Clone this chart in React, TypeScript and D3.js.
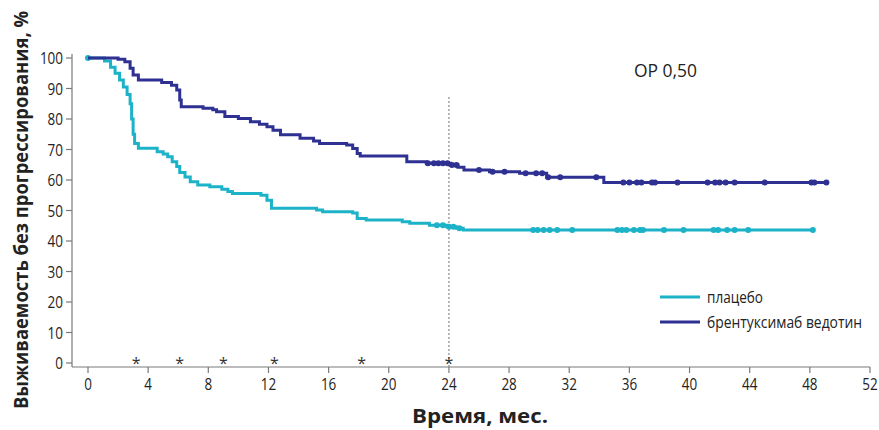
import * as d3 from "d3";

// Kaplan–Meier steps (month, % without progression)
const placeboT = [0, 1.1, 1.5, 1.8, 2.1, 2.35, 2.6, 2.8, 2.9, 3.0, 3.1, 3.35, 4.6, 5.0, 5.3, 5.6, 5.9, 6.1, 6.45, 6.8, 7.3, 8.1, 8.9, 9.3, 9.6, 11.5, 11.9, 12.2, 15.2, 15.6, 17.6, 17.9, 18.5, 20.9, 21.4, 22.7, 23.85, 24.5, 24.95, 48.3];
const placeboV = [100, 99, 97, 95, 92.8, 90.5, 88, 85, 80, 75, 72, 70.4, 69.3, 68.5, 67.6, 66, 64.4, 62.5, 61, 59.4, 58.4, 57.8, 57, 56.2, 55.6, 55, 53.4, 50.7, 50.2, 49.6, 49.2, 47.4, 46.9, 46.3, 45.8, 45.2, 44.7, 44.2, 43.6, 43.6];
const placeboCensor = [0, 23.2, 23.6, 24.0, 24.3, 24.7, 29.6, 29.9, 30.3, 30.7, 31.2, 32.2, 35.2, 35.5, 35.8, 36.3, 36.7, 36.9, 38.3, 39.6, 41.6, 41.9, 42.5, 43.0, 43.9, 48.2];

const bvT = [0, 2.0, 2.45, 2.8, 3.0, 3.35, 4.9, 5.55, 5.9, 6.1, 6.2, 7.65, 8.3, 8.55, 9.1, 10.0, 10.8, 11.4, 11.9, 12.3, 12.8, 14.1, 15.0, 15.4, 17.2, 17.6, 17.9, 18.1, 21.2, 22.5, 24.1, 24.6, 25.0, 26.7, 28.7, 30.5, 34.3, 49.1];
const bvV = [100, 99.6, 98.8, 96.6, 94.4, 92.8, 92, 91.1, 89.5, 86.2, 84, 83.5, 83, 82.4, 80.8, 80.2, 79.1, 78.3, 77.5, 76.3, 74.8, 73.7, 72.8, 72, 71.5, 70.3, 68.7, 67.9, 66, 65.5, 64.9, 64.2, 63.3, 62.7, 62.2, 60.9, 59.2, 59.2];
const bvCensor = [22.6, 23.0, 23.3, 23.6, 23.9, 24.2, 24.5, 26.0, 26.9, 27.7, 29.1, 29.8, 30.2, 30.6, 31.4, 33.8, 35.6, 36.0, 36.5, 36.8, 37.5, 37.7, 39.2, 41.2, 41.7, 42.0, 42.4, 43.0, 45.0, 48.1, 48.3, 49.1];

const xTicks = [0, 4, 8, 12, 16, 20, 24, 28, 32, 36, 40, 44, 48, 52];
const yTicks = [0, 10, 20, 30, 40, 50, 60, 70, 80, 90, 100];
const starMonths = [3.2, 6.1, 9.0, 12.4, 18.2, 24];
const landmark = 24;

const seriesNames = ["плацебо", "брентуксимаб ведотин"];
const seriesColors = ["#1cb2c8", "#2e3192"];

const W = 879;
const H = 430;
const FONT = "'Open Sans', 'Noto Sans', sans-serif";
const DIGIT_W = 7.7; // condensed digit width

const x = d3.scaleLinear().domain([0, 52]).range([88, 870]);
const y = d3.scaleLinear().domain([0, 100]).range([363, 58]);

const stepLine = d3
  .line<[number, number]>()
  .x((d) => x(d[0]))
  .y((d) => y(d[1]))
  .curve(d3.curveStepAfter);

const valueAt = (ts: number[], vs: number[], t: number) => {
  const i = d3.bisectRight(ts, t) - 1;
  return vs[Math.max(0, i)];
};

function Curve({ ts, vs, censor, color }: { ts: number[]; vs: number[]; censor: number[]; color: string }) {
  const pts = ts.map((t, i) => [t, vs[i]] as [number, number]);
  return (
    <g>
      <path d={stepLine(pts) || ""} fill="none" stroke={color} strokeWidth={3} />
      {censor.map((t, i) => (
        <circle key={i} cx={x(t)} cy={y(valueAt(ts, vs, t))} r={3} fill={color} />
      ))}
    </g>
  );
}

export default function App() {
  const axisY = 367;
  return (
    <svg
      width={W}
      height={H}
      style={{ position: "absolute", left: 0, top: 0, background: "#fff" }}
      fontFamily={FONT}
    >
      {/* y axis */}
      <line x1={72} x2={72} y1={y(100) - 4} y2={axisY} stroke="#7a7a7a" strokeWidth={1.2} />
      {yTicks.map((v) => (
        <g key={v} transform={`translate(0,${y(v)})`}>
          <line x1={66} x2={72} stroke="#7a7a7a" strokeWidth={1.2} />
          <text
            x={63}
            dy="0.36em"
            textAnchor="end"
            fontSize={17}
            fill="#222"
            textLength={String(v).length * DIGIT_W}
            lengthAdjust="spacingAndGlyphs"
          >
            {v}
          </text>
        </g>
      ))}

      {/* x axis */}
      <line x1={72} x2={x(52)} y1={axisY} y2={axisY} stroke="#7a7a7a" strokeWidth={1.2} />
      {xTicks.map((m) => (
        <g key={m} transform={`translate(${x(m)},${axisY})`}>
          <line y1={0} y2={6} stroke="#7a7a7a" strokeWidth={1.2} />
          <text
            y={23}
            textAnchor="middle"
            fontSize={17}
            fill="#222"
            textLength={String(m).length * DIGIT_W}
            lengthAdjust="spacingAndGlyphs"
          >
            {m}
          </text>
        </g>
      ))}

      {/* landmark at 24 months */}
      <line
        x1={x(landmark)}
        x2={x(landmark)}
        y1={97}
        y2={axisY}
        stroke="#8a8a8a"
        strokeWidth={1.2}
        strokeDasharray="2,2"
      />

      {starMonths.map((m, i) => (
        <text key={i} x={x(m)} y={369} textAnchor="middle" fontSize={16} fill="#333">
          *
        </text>
      ))}

      <Curve ts={placeboT} vs={placeboV} censor={placeboCensor} color={seriesColors[0]} />
      <Curve ts={bvT} vs={bvV} censor={bvCensor} color={seriesColors[1]} />

      <text x={634} y={77} fontSize={19} fill="#222" textLength={63} lengthAdjust="spacingAndGlyphs">
        ОР 0,50
      </text>

      {/* legend */}
      {seriesNames.map((n, i) => (
        <g key={n} transform={`translate(660,${297 + i * 25})`}>
          <line x1={0} x2={40} stroke={seriesColors[i]} strokeWidth={3} />
          <text
            x={47}
            dy="0.33em"
            fontSize={17}
            fill="#222"
            textLength={i === 0 ? 56 : 155}
            lengthAdjust="spacingAndGlyphs"
          >
            {n}
          </text>
        </g>
      ))}

      {/* axis titles */}
      <text
        transform={`translate(28,210) rotate(-90)`}
        textAnchor="middle"
        fontSize={19}
        fontWeight="bold"
        fill="#222"
        textLength={398}
        lengthAdjust="spacingAndGlyphs"
      >
        Выживаемость без прогрессирования, %
      </text>
      <text
        x={480}
        y={423}
        textAnchor="middle"
        fontSize={19}
        fontWeight="bold"
        fill="#222"
        textLength={136}
        lengthAdjust="spacingAndGlyphs"
      >
        Время, мес.
      </text>
    </svg>
  );
}
